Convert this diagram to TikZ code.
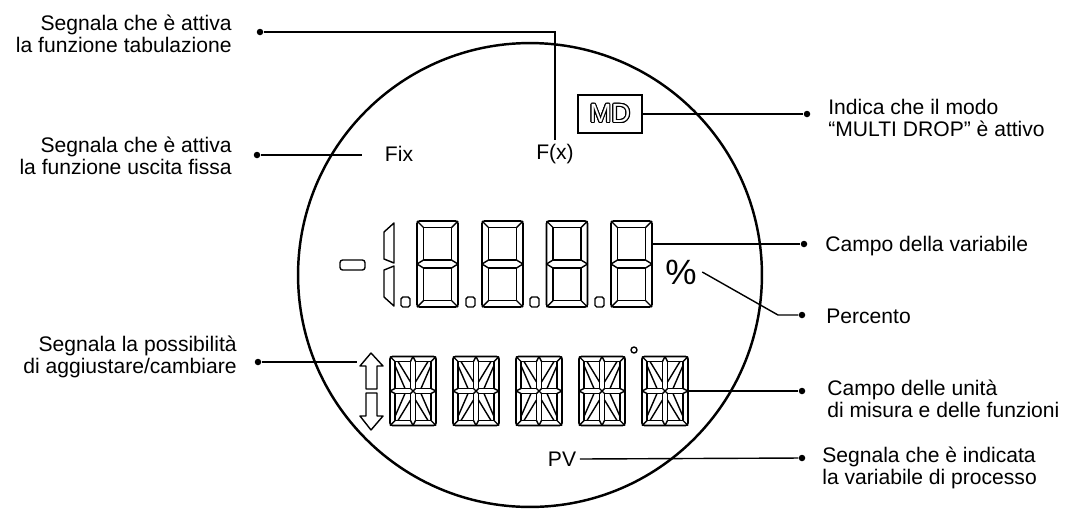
\documentclass[tikz,border=0pt]{standalone}
\usepackage{fontspec}
\setmainfont{Liberation Sans}
\usepackage[copies]{contour}
\contourlength{0.6pt}

\begin{document}
\begin{tikzpicture}[
    x=0.02cm, y=-0.02cm,
    lbl/.style={inner sep=0pt, font=\fontsize{12}{12.6}\selectfont},
    tag/.style={inner sep=2pt, font=\fontsize{12}{12.6}\selectfont},
    dot/.style={circle, fill, inner sep=0pt, minimum size=0.13cm},
    lead/.style={line width=0.8pt},
    seg/.style={line width=0.8pt, line join=round},
    segquad/.pic={
        \draw[seg] (-18,-29.5) rectangle (-2.5,-2.5);
        \draw[seg] (-23,-34.5) -- (-18,-29.5) (0,-34.5) -- (-2.5,-29.5)
                   (-23,0) -- (-18,-2.5) (0,0) -- (-2.5,-2.5)
                   (-15,-29.5) -- (-2.5,-9) (-18,-25.5) -- (-8,-2.5);
    },
    segseven/.pic={
        \draw[seg, line width=1pt, rounded corners=1.5pt] (-20.5,-43) rectangle (20.5,43);
        \draw[seg] (-14,-36.5) rectangle (14,-4) (-14,4) rectangle (14,36.5);
        \draw[seg] (-20.5,-43) -- (-14,-36.5) (20.5,-43) -- (14,-36.5)
                   (-20.5,43) -- (-14,36.5) (20.5,43) -- (14,36.5)
                   (-14,-4) -- (-20.5,0) -- (-14,4) (14,-4) -- (20.5,0) -- (14,4);
        \coordinate (-east) at (20.5,-20);
    },
    segfourteen/.pic={
        \draw[seg, line width=1pt, rounded corners=1.5pt] (-23,-34.5) rectangle (23,34.5);
        \pic {segquad};
        \pic[xscale=-1] {segquad};
        \pic[yscale=-1] {segquad};
        \pic[scale=-1] {segquad};
        \coordinate (-east) at (23,0);
    }
]
    \useasboundingbox (0,0) rectangle (1069,508);

    % Display outline
    \draw[line width=1.4pt] (530,275) circle [radius=4.64cm];

    % Numeric field
    \draw[seg, rounded corners=1.5pt] (340,260) rectangle (365,270);
    \draw[seg] (384,232) -- (394,223) -- (394,263) -- (384,259) -- cycle;
    \draw[seg] (384,270) -- (394,266) -- (394,306) -- (384,297) -- cycle;
    \draw[seg, rounded corners=1pt] (401,297) rectangle (410,307) (466,297) rectangle (475,307)
        (530,297) rectangle (539,307) (595,297) rectangle (604,307);
    \pic (sevenA) at (437.5,264) {segseven};
    \pic (sevenB) at (502.5,264) {segseven};
    \pic (sevenC) at (567,264) {segseven};
    \pic (sevenD) at (631.5,264) {segseven};
    \node[inner sep=3pt, font=\fontsize{20}{20}\selectfont] (pct) at (681,272) {\%};

    % Alphanumeric field
    \draw[seg] (371,353) -- (383,366) -- (377,366) -- (377,389) -- (366,389) -- (366,366) -- (360,366) -- cycle;
    \draw[seg] (366,393) -- (377,393) -- (377,416) -- (383,416) -- (371,430) -- (360,416) -- (366,416) -- cycle;
    \draw[seg] (634,350) circle [radius=0.06cm];
    \pic (alnumA) at (413,391) {segfourteen};
    \pic (alnumB) at (476,391) {segfourteen};
    \pic (alnumC) at (539,391) {segfourteen};
    \pic (alnumD) at (602,391) {segfourteen};
    \pic (alnumE) at (665,391) {segfourteen};

    % Flags
    \node[tag] (fix) at (399,154) {Fix};
    \node[tag] (fx) at (555,154) {F(x)};
    \node[tag] (pv) at (562,459) {PV};
    \node[draw, line width=0.8pt, text=white, minimum width=1.28cm, minimum height=0.76cm,
        inner sep=0pt, font=\fontsize{15}{15}\selectfont] (md) at (610,114) {\contour{black}{MD}};

    % Left labels
    \node[lbl, anchor=east, align=right] (tabtext) at (232,34) {Segnala che è attiva\\la funzione tabulazione};
    \node[lbl, anchor=east, align=right] (fixtext) at (232,156) {Segnala che è attiva\\la funzione uscita fissa};
    \node[lbl, anchor=east, align=right] (adjtext) at (237,357) {Segnala la possibilità\\di aggiustare/cambiare};

    % Right labels
    \node[lbl, anchor=west, align=left] (mdtext) at (828,118) {Indica che il modo\\“MULTI DROP” è attivo};
    \node[lbl, anchor=west, align=left] (vartext) at (825,246) {Campo della variabile};
    \node[lbl, anchor=west, align=left] (pcttext) at (826,316) {Percento};
    \node[lbl, anchor=west, align=left] (unittext) at (827,399) {Campo delle unità\\di misura e delle funzioni};
    \node[lbl, anchor=west, align=left] (pvtext) at (822,468) {Segnala che è indicata\\la variabile di processo};

    % Dots
    \node[dot] (tabdot) at (260,32) {};
    \node[dot] (fixdot) at (257,155) {};
    \node[dot] (adjdot) at (258,362) {};
    \node[dot] (mddot) at (807,114) {};
    \node[dot] (vardot) at (804,244) {};
    \node[dot] (pctdot) at (802,315) {};
    \node[dot] (unitdot) at (802,391) {};
    \node[dot] (pvdot) at (802,458) {};
    \coordinate (fixend) at (362,155);
    \coordinate (adjend) at (357,362);
    \coordinate (pctbend) at (778,315);

    % Leaders
    \draw[lead] (tabdot) -- (tabdot -| fx.north) -- (fx.north);
    \draw[lead] (fixdot) -- (fixend);
    \draw[lead] (adjdot) -- (adjend);
    \draw[lead] (md.east) -- (mddot);
    \draw[lead] (sevenD-east) -- (vardot);
    \draw[lead] (pct.east) -- (pctbend) -- (pctdot);
    \draw[lead] (alnumE-east) -- (unitdot);
    \draw[lead] (pv.east) -- (pvdot);
\end{tikzpicture}
\end{document}
